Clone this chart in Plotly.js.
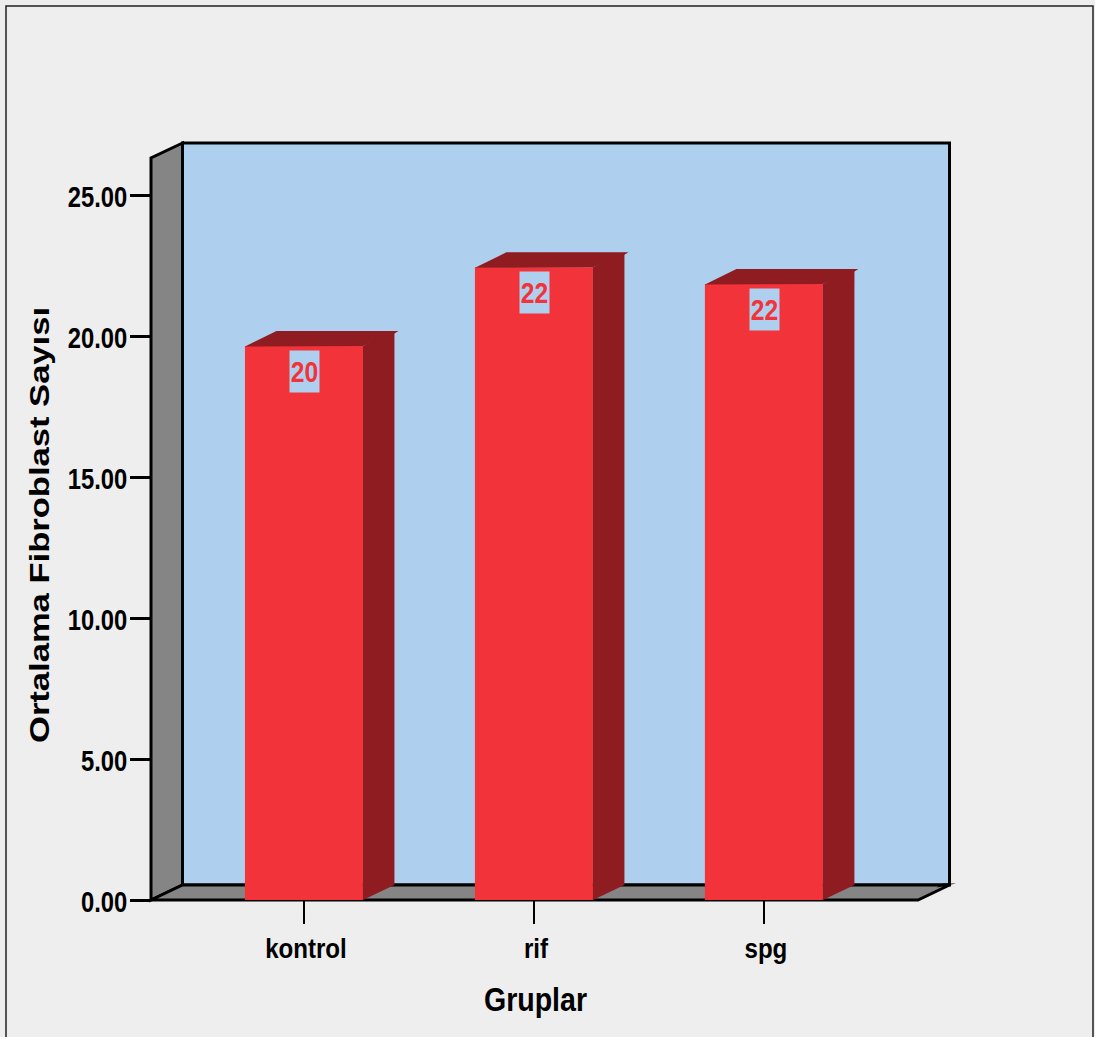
<!DOCTYPE html>
<html>
<head>
<meta charset="utf-8">
<script src="https://cdn.plot.ly/plotly-3.0.1.min.js"></script>
<style>html,body{margin:0;padding:0;background:#eeeeee;overflow:hidden}</style>
</head>
<body>
<div id="chart" style="width:1095px;height:1037px"></div>
<script>
// Mean fibroblast counts per group
const categories = ['kontrol', 'rif', 'spg'];
const meanValues = [19.66, 22.45, 21.86];
const yTickValues = [0, 5, 10, 15, 20, 25];
const xPositions = [0, 1, 2];

const COLORS = {
  page: '#eeeeee', wall: '#aed0ee', grey: '#858585',
  barFront: '#f2333a', barShade: '#8f1c20', ink: '#000000'
};

// Size of the front plane of the pseudo-3D box
const WIDTH = 1095, HEIGHT = 1037;
const M = {l: 151, r: 177, t: 158, b: 136.5};
const plotW = WIDTH - M.l - M.r, plotH = HEIGHT - M.t - M.b;
const xRange = [-0.665, 2.67], yRange = [0, 26.33];
const pxX = plotW / (xRange[1] - xRange[0]);   // pixels per x unit
const pxY = plotH / (yRange[1] - yRange[0]);   // pixels per y unit

// Extrusion depth of the box and the bars
const DEPTH_PX = 31.5, RISE_PX = 15;
const depthX = DEPTH_PX / pxX, riseY = RISE_PX / pxY;
const barWidth = 118 / pxX;
const spikeX = 4 / pxX, spikeY = 2.5 / pxY;

// Back wall, side wall and floor are drawn in paper units behind the bars
const dx = DEPTH_PX / plotW, dy = RISE_PX / plotH;
const poly = pts => 'M' + pts.map(p => p[0] + ',' + p[1]).join(' L') + ' Z';
const boxLine = {color: COLORS.ink, width: 3};
const face = (pts, fill) => ({
  type: 'path', xref: 'paper', yref: 'paper', layer: 'below',
  path: poly(pts), fillcolor: fill, line: boxLine
});
const tipX = 6.5 / plotW, tipY = 1.6 / plotH;
const shapes = [
  face([[dx, dy], [dx, 1 + dy], [1 + dx, 1 + dy], [1 + dx, dy]], COLORS.wall),
  face([[0, 0], [0, 1], [dx, 1 + dy], [dx, dy]], COLORS.grey),
  face([[0, 0], [dx, dy], [1 + dx, dy], [1, 0]], COLORS.grey),
  // pointed corner where the floor edge runs past the back wall
  {
    type: 'path', xref: 'paper', yref: 'paper', layer: 'below',
    path: poly([[1 + dx - 2 * tipX, dy - tipY * 1.5], [1 + dx + tipX, dy + tipY * 0.9], [1 + dx - tipX, dy + tipY * 0.9]]),
    fillcolor: COLORS.ink, line: {width: 0}
  },
  // outer frame of the figure, open at the bottom edge
  {
    type: 'path', xref: 'paper', yref: 'paper', layer: 'below',
    path: poly([
      [(6 - M.l) / plotW, -M.b / plotH - 0.01],
      [(6 - M.l) / plotW, (HEIGHT - M.b - 6) / plotH],
      [(1093 - M.l) / plotW, (HEIGHT - M.b - 6) / plotH],
      [(1093 - M.l) / plotW, -M.b / plotH - 0.01]
    ]).replace(' Z', ''),
    line: {color: '#222222', width: 1.5}, fillcolor: 'rgba(0,0,0,0)'
  }
];

// Shaded right and top faces of one bar, derived from its value
function shadeTraces(x, v) {
  const x0 = x - barWidth / 2, x1 = x + barWidth / 2;
  const base = {type: 'scatter', mode: 'lines', fill: 'toself', showlegend: false,
    hoverinfo: 'skip', fillcolor: COLORS.barShade,
    line: {width: 0, color: COLORS.barShade, simplify: false}};
  return [
    Object.assign({}, base, {
      x: [x1, x1 + depthX, x1 + depthX, x1, x1],
      y: [0, riseY, v + riseY, v, 0]
    }),
    Object.assign({}, base, {
      x: [x0 - spikeX, x0 + depthX, x1 + depthX + spikeX, x1 + depthX, x1, x0, x0 - spikeX],
      y: [v - spikeY, v + riseY, v + riseY, v + riseY - spikeY, v, v - spikeY * 0.2, v - spikeY]
    })
  ];
}

const barTrace = {
  type: 'bar', x: xPositions, y: meanValues, width: barWidth,
  marker: {color: COLORS.barFront, line: {width: 0}},
  showlegend: false, name: 'Ortalama Fibroblast Sayısı'
};
const traces = [barTrace].concat(...xPositions.map((x, i) => shadeTraces(x, meanValues[i])));

const boldFont = (size, color) => ({family: '"Liberation Sans", Arial, sans-serif', size, color: color || COLORS.ink, weight: 700});

// Rounded value tags just under each bar's top edge
const annotations = xPositions.map((x, i) => ({
  xref: 'x', yref: 'y', x: x + 1 / pxX, y: meanValues[i],
  yanchor: 'top', xanchor: 'center', yshift: -4, showarrow: false,
  text: String(Math.round(meanValues[i])),
  width: 29, height: 41, borderpad: 0, bgcolor: COLORS.wall,
  font: boldFont(29, COLORS.barFront)
}));

const layout = {
  width: WIDTH, height: HEIGHT, autosize: false, margin: M,
  paper_bgcolor: COLORS.page, plot_bgcolor: 'rgba(0,0,0,0)',
  showlegend: false, shapes, annotations, barmode: 'overlay',
  xaxis: {
    range: xRange, tickmode: 'array', tickvals: xPositions, ticktext: categories,
    ticks: 'outside', ticklen: 23, tickwidth: 2.5, tickcolor: COLORS.ink,
    showgrid: false, zeroline: false, showline: false, tickfont: boldFont(28),
    title: {text: 'Gruplar', font: boldFont(33)}
  },
  yaxis: {
    range: yRange, tickmode: 'array', tickvals: yTickValues, tickformat: '.2f',
    ticks: 'outside', ticklen: 20, tickwidth: 3, tickcolor: COLORS.ink, ticklabelstandoff: -3,
    showgrid: false, zeroline: false, showline: false, tickfont: boldFont(29),
    title: {text: 'Ortalama Fibroblast Sayısı', font: boldFont(27)}
  }
};

// Condense or stretch a text element horizontally, keeping it as live text
function fitText(selector, factor) {
  document.querySelectorAll('#chart ' + selector).forEach(el => {
    el.setAttribute('textLength', el.getComputedTextLength() * factor);
    el.setAttribute('lengthAdjust', 'spacingAndGlyphs');
  });
}
function nudge(selector, tx, ty) {
  document.querySelectorAll('#chart ' + selector).forEach(el => {
    el.setAttribute('transform', 'translate(' + tx + ',' + ty + ') ' + (el.getAttribute('transform') || ''));
  });
}

Plotly.newPlot('chart', traces, layout, {displayModeBar: false, staticPlot: true}).then(() => {
  fitText('.ytick text', 0.82);
  fitText('.xtick text', 0.86);
  fitText('.annotation-text', 0.85);
  fitText('.xtitle', 0.865);
  fitText('.ytitle', 1.28);
  nudge('.ytick text', 0, 1.5);
  nudge('.xtick text', 2, 0);
  nudge('.xtitle', 1, 2);
  nudge('.ytitle', 2, -4);
});
</script>
</body>
</html>
